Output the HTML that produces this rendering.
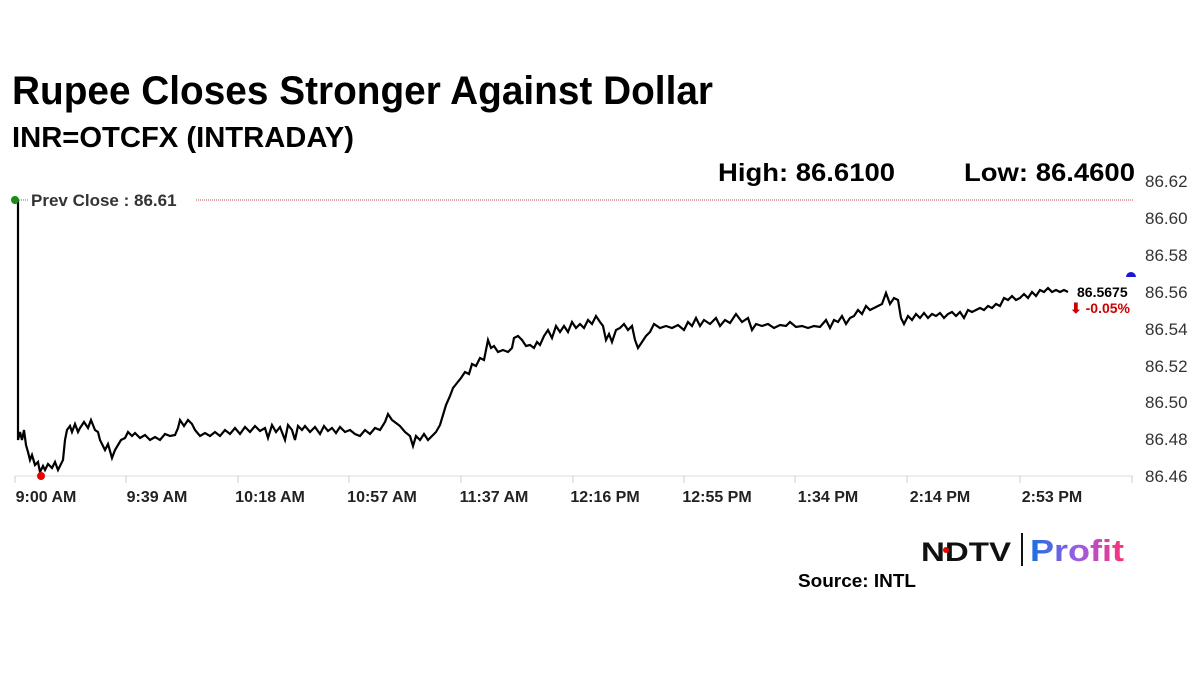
<!DOCTYPE html>
<html><head><meta charset="utf-8"><style>
html,body{margin:0;padding:0;background:#fff;width:1200px;height:674px;overflow:hidden}
svg{display:block;font-family:"Liberation Sans",Arial,sans-serif}
</style></head><body>
<svg width="1200" height="674" viewBox="0 0 1200 674">
<text x="12" y="104" font-size="40" font-weight="bold" fill="#000" textLength="701" lengthAdjust="spacingAndGlyphs">Rupee Closes Stronger Against Dollar</text>
<text x="12" y="147" font-size="29" font-weight="bold" fill="#000" textLength="342" lengthAdjust="spacingAndGlyphs">INR=OTCFX (INTRADAY)</text>
<text x="718" y="181" font-size="25" font-weight="bold" fill="#000" textLength="177" lengthAdjust="spacingAndGlyphs">High: 86.6100</text>
<text x="964" y="181" font-size="25" font-weight="bold" fill="#000" textLength="171" lengthAdjust="spacingAndGlyphs">Low: 86.4600</text>
<g font-size="17" fill="#333">
<text x="1145" y="187">86.62</text>
<text x="1145" y="224">86.60</text>
<text x="1145" y="261">86.58</text>
<text x="1145" y="298">86.56</text>
<text x="1145" y="335">86.54</text>
<text x="1145" y="372">86.52</text>
<text x="1145" y="408">86.50</text>
<text x="1145" y="445">86.48</text>
<text x="1145" y="482">86.46</text>
</g>
<line x1="15" y1="476" x2="1133" y2="476" stroke="#ddd" stroke-width="1"/>
<g stroke="#ccc" stroke-width="1">
<line x1="15" y1="476" x2="15" y2="483"/><line x1="126" y1="476" x2="126" y2="483"/><line x1="238" y1="476" x2="238" y2="483"/><line x1="349" y1="476" x2="349" y2="483"/><line x1="461" y1="476" x2="461" y2="483"/><line x1="573" y1="476" x2="573" y2="483"/><line x1="684" y1="476" x2="684" y2="483"/><line x1="795" y1="476" x2="795" y2="483"/><line x1="907" y1="476" x2="907" y2="483"/><line x1="1020" y1="476" x2="1020" y2="483"/><line x1="1132" y1="476" x2="1132" y2="483"/>
</g>
<g font-size="16" font-weight="bold" fill="#222" text-anchor="middle">
<text x="46" y="502">9:00 AM</text>
<text x="157" y="502">9:39 AM</text>
<text x="270" y="502">10:18 AM</text>
<text x="382" y="502">10:57 AM</text>
<text x="494" y="502">11:37 AM</text>
<text x="605" y="502">12:16 PM</text>
<text x="717" y="502">12:55 PM</text>
<text x="828" y="502">1:34 PM</text>
<text x="940" y="502">2:14 PM</text>
<text x="1052" y="502">2:53 PM</text>
</g>
<line x1="196" y1="200" x2="1133" y2="200" stroke="#c0504d" stroke-width="1" stroke-dasharray="1,1"/>
<line x1="15" y1="200" x2="28" y2="200" stroke="#c0504d" stroke-width="1" stroke-dasharray="1,1"/>
<text x="31" y="206" font-size="17" font-weight="bold" fill="#333">Prev Close : 86.61</text>
<polyline fill="none" stroke="#000" stroke-width="2.2" stroke-linejoin="miter" points="
18,200 18,440 20,432 22,440 24,430 26,445 28,452 30,460 32,455 35,465 38,462 40,472 43,466 45,470 48,464 52,468 55,462 58,470 60,466 63,460 65,440 67,430 70,426 72,432 75,424 78,432 80,428 84,422 88,428 91,420 95,430 98,432 100,440 103,446 105,450 108,444 112,458 115,450 118,445 121,440 125,438 128,432 132,436 135,433 140,438 145,435 150,440 155,437 160,440 165,434 170,436 175,435 178,428 180,420 184,426 188,420 192,424 195,430 200,436 205,433 210,436 215,432 220,436 225,430 230,434 235,428 240,434 245,427 250,432 255,426 260,431 265,428 268,438 272,425 276,432 280,427 285,440 288,425 292,430 295,440 298,426 302,430 305,426 310,432 315,427 320,434 324,426 328,431 332,428 336,433 340,427 345,432 350,430 355,434 360,436 365,430 370,434 375,428 380,430 385,422 388,414 392,420 396,423 400,426 405,432 410,436 413,446 416,436 420,440 424,434 428,440 432,436 436,432 440,425 443,415 446,405 450,396 453,388 457,383 461,378 465,372 469,374 472,364 476,366 480,358 484,360 488,340 491,348 494,346 498,352 503,350 508,352 512,348 514,338 518,336 522,340 526,346 530,345 534,348 537,342 540,345 544,336 548,330 552,338 556,326 560,332 564,326 568,332 572,322 576,328 580,324 584,328 588,320 592,324 596,316 600,322 603,326 606,340 609,334 612,342 616,330 620,328 624,324 628,330 632,326 635,340 638,348 642,342 646,336 650,332 654,324 660,328 666,326 672,328 678,325 684,330 688,322 692,326 696,318 700,326 704,320 710,324 716,318 720,326 725,320 730,323 736,314 742,322 748,318 752,330 756,324 762,326 768,324 774,328 780,325 786,326 790,322 796,327 802,326 808,328 814,326 820,327 826,320 830,328 834,320 838,322 842,316 846,324 850,318 854,316 858,310 862,314 866,306 870,310 874,308 878,306 882,304 886,293 890,304 894,298 898,300 901,318 904,324 908,316 912,320 916,314 920,318 924,313 928,318 932,314 936,316 940,313 944,318 948,314 952,312 956,316 960,312 964,318 968,310 972,312 976,310 980,308 984,310 988,306 992,308 996,304 1000,306 1004,298 1008,300 1012,296 1016,300 1020,298 1024,294 1028,298 1032,292 1036,296 1040,290 1044,292 1048,288 1052,292 1056,290 1060,292 1064,290 1068,292"/>
<circle cx="15" cy="200" r="4" fill="#1a8a1a"/>
<circle cx="41" cy="476" r="4" fill="#e00"/>
<path d="M1126,277 a5,5 0 0 1 10,0 z" fill="#1a1acc"/>
<text x="1077" y="297" font-size="14" font-weight="bold" fill="#000">86.5675</text>
<text x="1070" y="313" font-size="14" font-weight="bold" fill="#c00">⬇ -0.05%</text>
<text x="921" y="561" font-size="27" font-weight="bold" fill="#111" textLength="90" lengthAdjust="spacingAndGlyphs">NDTV</text>
<circle cx="946" cy="550" r="3" fill="#e00"/>
<line x1="1022" y1="533" x2="1022" y2="566" stroke="#111" stroke-width="2"/>
<defs><linearGradient id="g" x1="0" x2="1"><stop offset="0" stop-color="#1a6fe0"/><stop offset="0.5" stop-color="#9a5ce8"/><stop offset="1" stop-color="#ff2f7a"/></linearGradient></defs>
<text x="1030" y="561" font-size="31" font-weight="bold" fill="url(#g)" textLength="94" lengthAdjust="spacingAndGlyphs">Profit</text>
<text x="798" y="587" font-size="18" font-weight="bold" fill="#000" textLength="118" lengthAdjust="spacingAndGlyphs">Source: INTL</text>
</svg>
</body></html>
